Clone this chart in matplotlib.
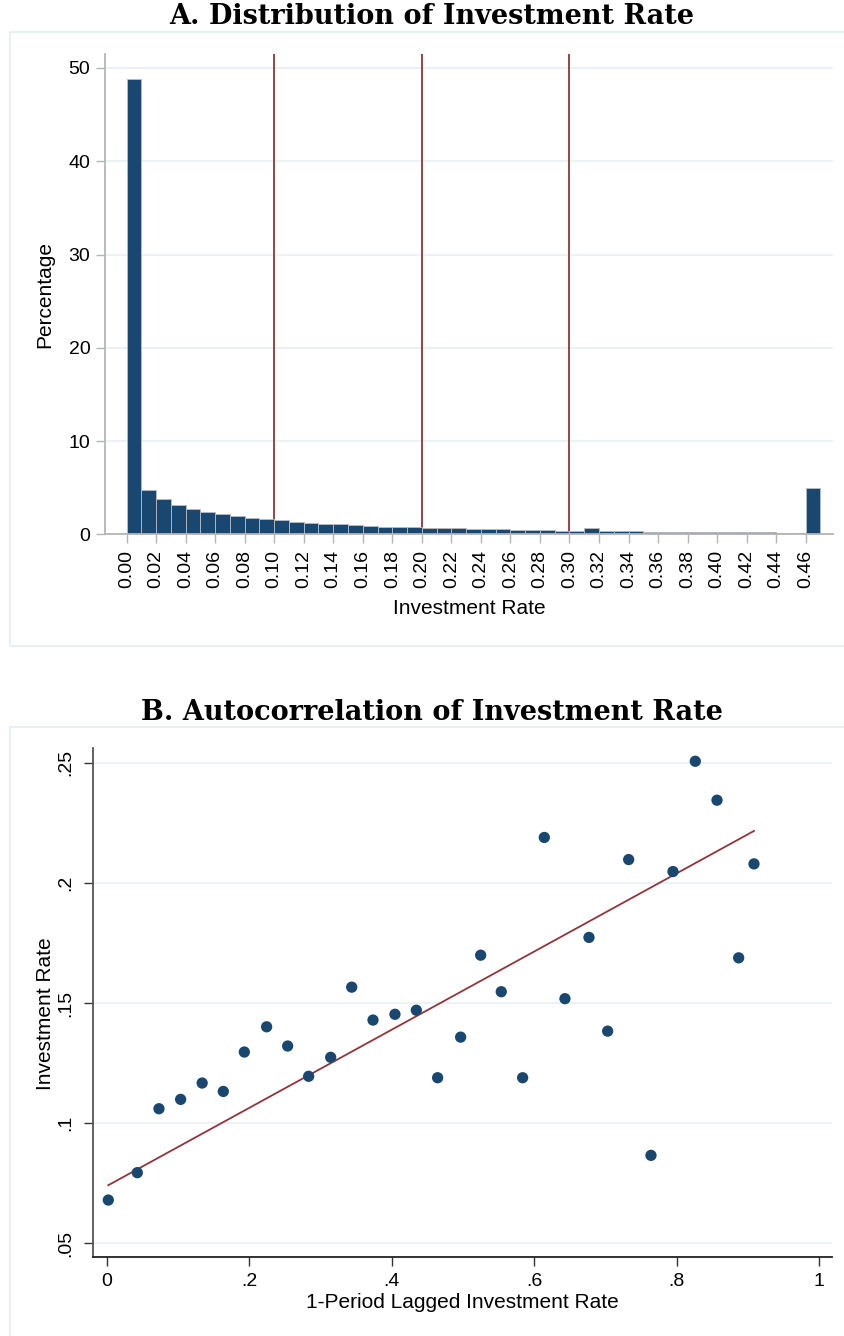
import numpy as np
import matplotlib
matplotlib.use("Agg")
import matplotlib.pyplot as plt
from matplotlib.patches import Rectangle

# ---------------- data ----------------
# Panel A: histogram of investment rate (bin width 0.01, first bin starts at 0.00)
bin_width = 0.01
bin_left = np.round(np.arange(47) * bin_width, 2)
pct = [48.8, 4.70, 3.75, 3.14, 2.71, 2.39, 2.14, 1.93, 1.75, 1.61,
       1.50, 1.32, 1.21, 1.14, 1.07, 0.96, 0.89, 0.82, 0.79, 0.75,
       0.71, 0.64, 0.64, 0.57, 0.54, 0.54, 0.46, 0.43, 0.43, 0.39,
       0.36, 0.64, 0.32, 0.32, 0.32, 0.29, 0.29, 0.25, 0.25, 0.21,
       0.21, 0.21, 0.21, 0.21, 0.14, 0.14, 4.93]
ref_lines = [0.10, 0.20, 0.30]
a_xticks = [round(0.02 * i, 2) for i in range(24)]
a_yticks = [0, 10, 20, 30, 40, 50]

# Panel B: binned scatter of investment rate vs lagged investment rate
lag_rate = [0.0023, 0.0430, 0.0734, 0.1038, 0.1340, 0.1637, 0.1932, 0.2245,
            0.2540, 0.2835, 0.3144, 0.3439, 0.3738, 0.4046, 0.4346, 0.4645,
            0.4968, 0.5249, 0.5538, 0.5838, 0.6142, 0.6432, 0.6769, 0.7031,
            0.7326, 0.7639, 0.7948, 0.8261, 0.8566, 0.8870, 0.9085]
inv_rate = [0.0680, 0.0794, 0.1060, 0.1099, 0.1167, 0.1132, 0.1296, 0.1401,
            0.1321, 0.1195, 0.1274, 0.1566, 0.1429, 0.1453, 0.1470, 0.1189,
            0.1358, 0.1699, 0.1547, 0.1189, 0.2189, 0.1518, 0.1773, 0.1383,
            0.2097, 0.0866, 0.2047, 0.2506, 0.2344, 0.1688, 0.2079]
# linear fit (estimated on underlying data)
fit_intercept = 0.0738
fit_slope = 0.1627
b_xticks = [0, 0.2, 0.4, 0.6, 0.8, 1.0]
b_xticklabels = ["0", ".2", ".4", ".6", ".8", "1"]
b_yticks = [0.05, 0.10, 0.15, 0.20, 0.25]
b_yticklabels = [".05", ".1", ".15", ".2", ".25"]

# ---------------- style ----------------
NAVY = "#1a476f"
MAROON = "#90353b"
GRID = "#eaf2f3"
FRAME = "#e4eced"
SANS = ["Liberation Sans", "DejaVu Sans"]
plt.rcParams["font.family"] = SANS

W, H = 844, 1336
fig = plt.figure(figsize=(W / 100, H / 100), dpi=100)
fig.patch.set_facecolor("white")

def fx(px):
    return px / W

def fy(py):
    return 1 - py / H

# outer frames of the two sub-graphs
fig.patches.append(Rectangle((fx(10), fy(646)), fx(850 - 10), fy(32) - fy(646),
                             transform=fig.transFigure, fill=False,
                             edgecolor=FRAME, linewidth=1.2, zorder=0))
fig.patches.append(Rectangle((fx(10), fy(1340)), fx(850 - 10), fy(727) - fy(1340),
                             transform=fig.transFigure, fill=False,
                             edgecolor=FRAME, linewidth=1.2, zorder=0))

# titles
TITLE_FONT = ["DejaVu Serif"]
fig.text(0.512, fy(17), "A. Distribution of Investment Rate", ha="center", va="center",
         fontfamily=TITLE_FONT, fontweight="bold", fontsize=19.5)
fig.text(0.512, fy(713), "B. Autocorrelation of Investment Rate", ha="center", va="center",
         fontfamily=TITLE_FONT, fontweight="bold", fontsize=19.5)

# ---------------- Panel A ----------------
axA = fig.add_axes([fx(105), fy(534.3), fx(832.7 - 105), fy(54) - fy(534.3)])
axA.set_xlim(-0.0146, 0.4783)
axA.set_ylim(0, 51.5)
for y in a_yticks[1:]:
    axA.axhline(y, color=GRID, linewidth=1.5, zorder=0)
for xv in ref_lines:
    axA.axvline(xv, color=MAROON, linewidth=1.3, zorder=1)
axA.bar(bin_left, pct, width=bin_width, align="edge", color=NAVY,
        edgecolor="#b9bdc1", linewidth=0.6, zorder=2)
for s in ["top", "right"]:
    axA.spines[s].set_visible(False)
for s in ["left", "bottom"]:
    axA.spines[s].set_color("#b4b4b4")
    axA.spines[s].set_linewidth(1.3)
axA.spines["bottom"].set_zorder(3)
axA.set_xticks(a_xticks)
axA.set_xticklabels([f"{v:.2f}" for v in a_xticks], rotation=90)
axA.set_yticks(a_yticks)
axA.tick_params(axis="both", direction="out", length=6.5, width=1.0, color="#b4b4b4",
                labelsize=14, labelcolor="black")
axA.tick_params(axis="x", pad=4.5)
axA.tick_params(axis="y", pad=4)
axA.set_xlabel("Investment Rate", fontsize=15)
axA.xaxis.set_label_coords(0.5, (534.3 - 608) / 480.3)
axA.xaxis.label.set_va("center")
axA.set_ylabel("Percentage", fontsize=15)
axA.yaxis.set_label_coords((45 - 105) / 727.7, 0.5)
axA.yaxis.label.set_va("center")

# ---------------- Panel B ----------------
axB = fig.add_axes([fx(92.7), fy(1257), fx(832.3 - 92.7), fy(748.3) - fy(1257)])
axB.set_xlim(-0.0196, 1.0184)
axB.set_ylim(0.0443, 0.256)
for y in b_yticks:
    axB.axhline(y, color=GRID, linewidth=1.5, zorder=0)
xfit = np.array([min(lag_rate), max(lag_rate)])
axB.plot(xfit, fit_intercept + fit_slope * xfit, color=MAROON, linewidth=1.3, zorder=2)
axB.scatter(lag_rate, inv_rate, s=66, color=NAVY, edgecolors="none", zorder=3)
for s in ["top", "right"]:
    axB.spines[s].set_visible(False)
axB.spines["left"].set_color("#555555")
axB.spines["bottom"].set_color("#222222")
axB.spines["left"].set_linewidth(1.3)
axB.spines["bottom"].set_linewidth(1.3)
axB.set_xticks(b_xticks)
axB.set_xticklabels(b_xticklabels)
axB.set_yticks(b_yticks)
axB.set_yticklabels(b_yticklabels, rotation=90, va="center")
axB.tick_params(axis="both", direction="out", length=6.5, width=1.0, color="#333333",
                labelsize=14, labelcolor="black")
axB.tick_params(axis="x", pad=5)
axB.tick_params(axis="y", pad=7)
axB.set_xlabel("1-Period Lagged Investment Rate", fontsize=15)
axB.xaxis.set_label_coords(0.5, (1257 - 1303) / 508.7)
axB.xaxis.label.set_va("center")
axB.set_ylabel("Investment Rate", fontsize=15)
axB.yaxis.set_label_coords((45 - 92.7) / 739.6, 0.478)
axB.yaxis.label.set_va("center")

fig.savefig("out.png", dpi=100, facecolor="white")
